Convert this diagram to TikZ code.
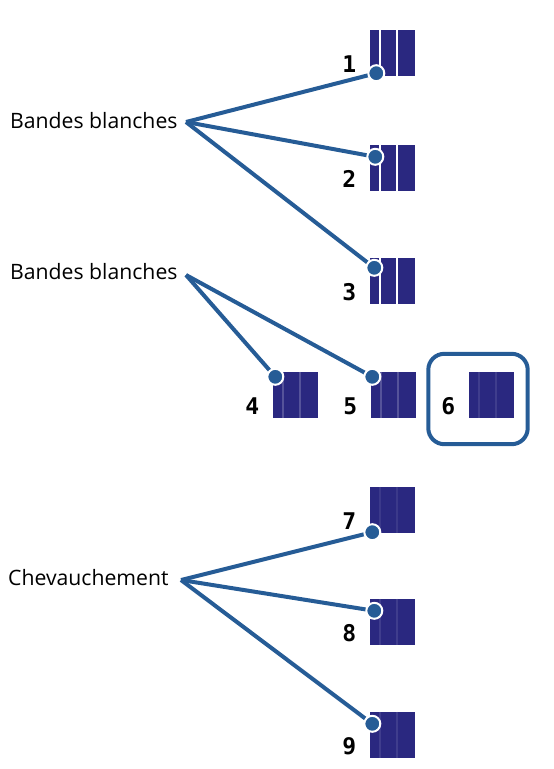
\documentclass[tikz,border=0pt]{standalone}
\usepackage{fontspec}
\setmainfont{Open Sans}
\newfontfamily\numfont{DejaVu Sans Mono}
\usetikzlibrary{positioning}
\definecolor{linkblue}{RGB}{38,92,150}
\definecolor{cellnavy}{RGB}{42,40,128}

\begin{document}
\begin{tikzpicture}[x=1pt, y=-1pt,
  cell/.style={fill=cellnavy, minimum width=45pt, minimum height=46pt, inner sep=0pt},
  num/.style={font=\numfont\bfseries\fontsize{23}{23}\selectfont, anchor=base east, inner sep=0pt},
  tag/.style={font=\fontsize{21.2}{22}\selectfont, anchor=west, inner sep=0pt},
  link/.style={draw=linkblue, line width=4pt},
  pin/.style={circle, fill=linkblue, draw=white, line width=2pt, minimum size=16pt, inner sep=0pt},
  frame/.style={draw=linkblue, line width=4pt, rounded corners=16pt}]
  \useasboundingbox (0,0) rectangle (554,769);

  % cells
  \node[cell] (s1) at (392,53) {};
  \node[cell] (s2) at (392,168) {};
  \node[cell] (s3) at (392,281) {};
  \node[cell] (s4) at (295,395) {};
  \node[cell] (s5) at (393,395) {};
  \node[cell] (s6) at (491,395) {};
  \node[cell] (s7) at (392,510) {};
  \node[cell] (s8) at (392,622) {};
  \node[cell] (s9) at (392,735) {};

  % stripes
  \foreach \c/\tone in {s1/white, s2/white, s3/white, s4/cellnavy!80!white,
      s5/cellnavy!80!white, s6/cellnavy!90!white, s7/cellnavy!92!white,
      s8/cellnavy!90!white, s9/cellnavy!90!white}
    \foreach \dx in {-12,5}
      \draw[\tone, line width=1.1pt] ([xshift=\dx pt]\c.north) -- ([xshift=\dx pt]\c.south);

  % numbers
  \foreach \c/\n in {s1/1, s2/2, s3/3, s4/4, s5/5, s6/6, s7/7, s8/8, s9/9}
    \node[num] (n\n) at ([xshift=-13pt, yshift=4pt]\c.south west) {\n};

  % frame round 6
  \draw[frame] ([shift={(-40,-18)}]s6.north west) rectangle ([shift={(14,26)}]s6.south east);

  % labels
  \node[tag] (b1) at (10,121) {Bandes blanches};
  \node[tag] (b2) at (10,272) {Bandes blanches};
  \node[tag] (ch) at (8,578) {Chevauchement};
  \coordinate (h1) at (186,122);
  \coordinate (h2) at (186,275);
  \coordinate (h3) at (181,580);

  % pin points
  \coordinate (p1) at ([shift={(7,-3)}]s1.south west);
  \coordinate (p2) at ([shift={(6,12)}]s2.north west);
  \coordinate (p3) at ([shift={(5,10)}]s3.north west);
  \coordinate (p4) at ([shift={(3,5)}]s4.north west);
  \coordinate (p5) at ([shift={(2,5)}]s5.north west);
  \coordinate (p7) at ([shift={(3,-1)}]s7.south west);
  \coordinate (p8) at ([shift={(5,12)}]s8.north west);
  \coordinate (p9) at ([shift={(3,12)}]s9.north west);

  % connectors
  \foreach \h/\p in {h1/p1, h1/p2, h1/p3, h2/p4, h2/p5, h3/p7, h3/p8, h3/p9}
    \draw[link] (\h) -- (\p);
  \foreach \p in {p1,p2,p3,p4,p5,p7,p8,p9}
    \node[pin] at (\p) {};
\end{tikzpicture}
\end{document}
